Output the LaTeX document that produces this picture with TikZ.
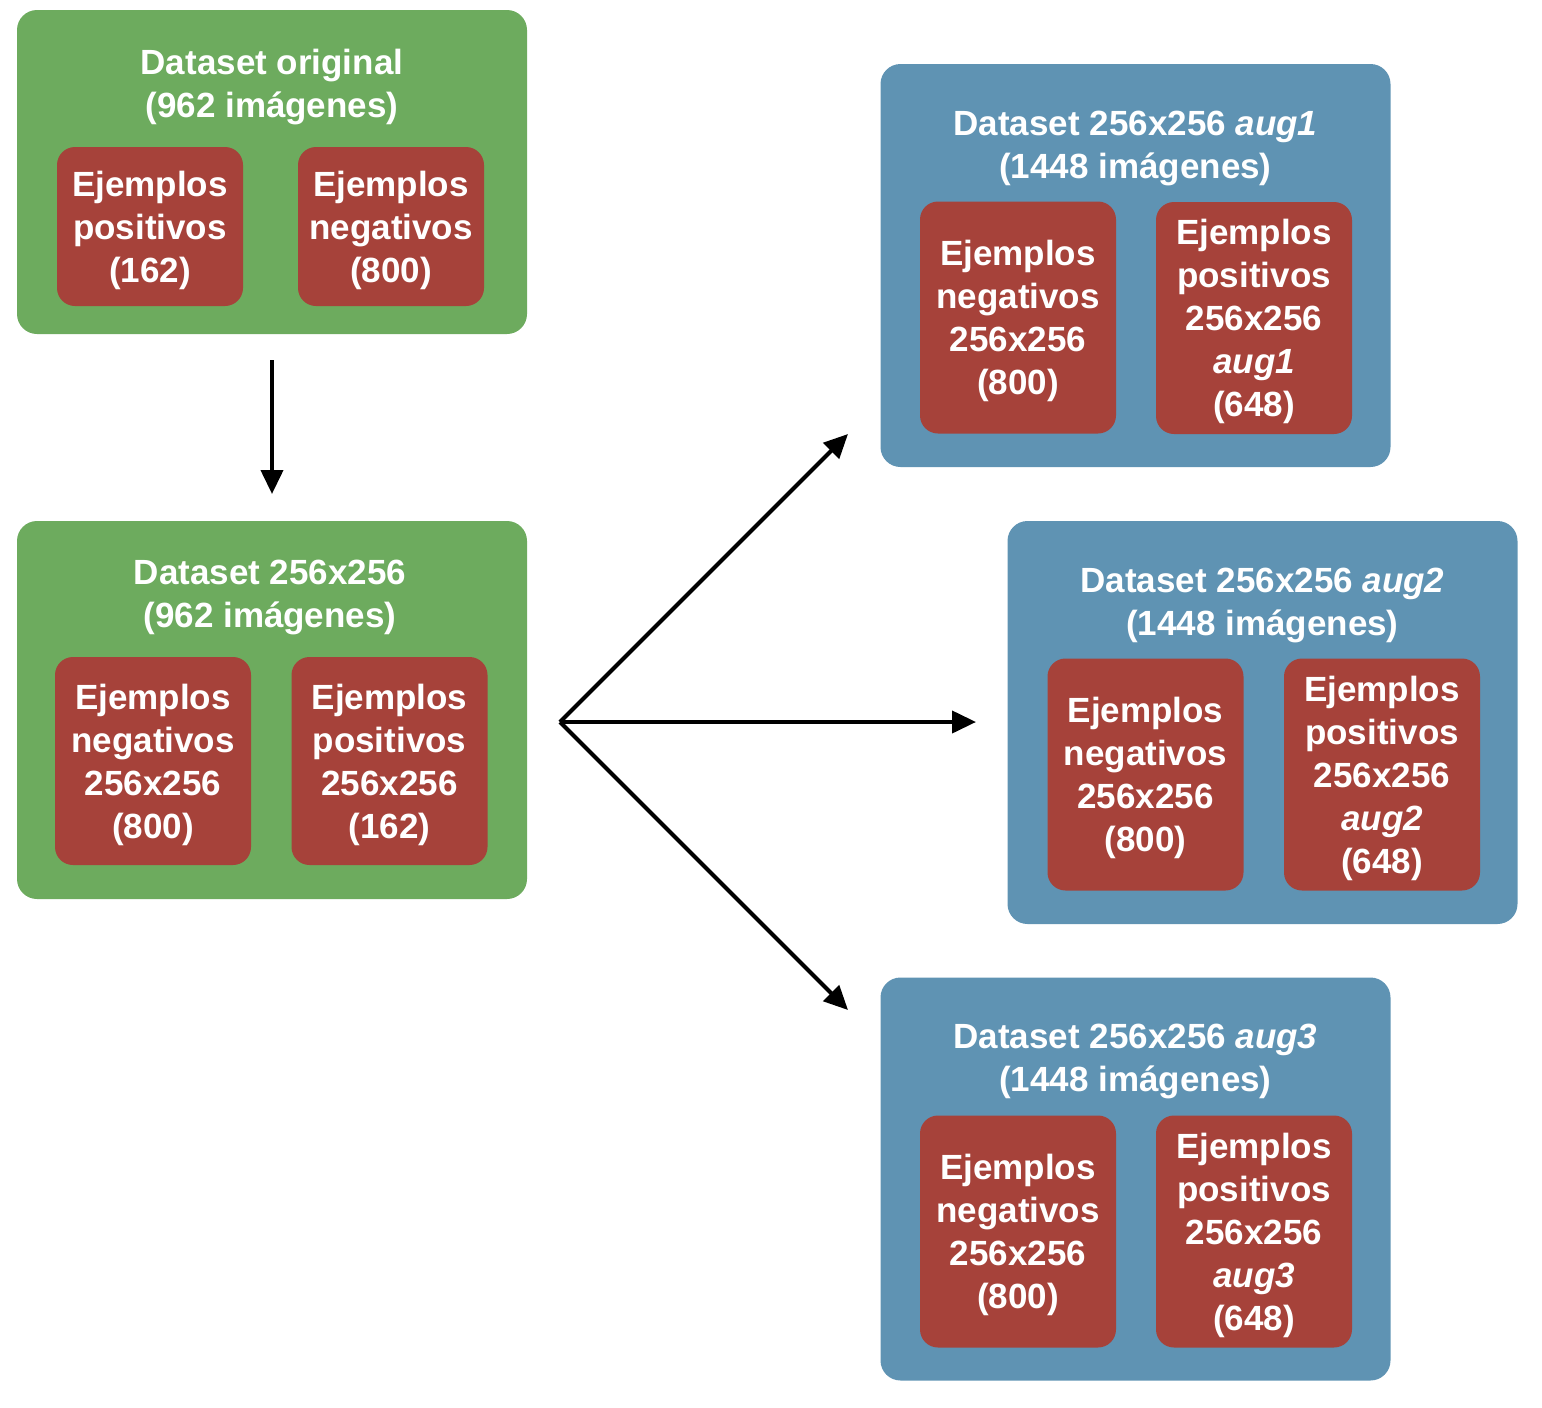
\documentclass[tikz,border=0pt]{standalone}
\usepackage{fontspec}
\setmainfont{Liberation Sans}
\usepackage{xcolor}
\usetikzlibrary{arrows.meta,positioning}
\definecolor{dsgreen}{HTML}{6DAB5E}
\definecolor{dsblue}{HTML}{5F93B3}
\definecolor{dsred}{HTML}{A6423A}
\begin{document}
\begin{tikzpicture}[x=0.5pt, y=-0.5pt, line width=2pt,
	>={Triangle[length=12pt,width=11pt]}]

	\tikzstyle{orig}=[rounded corners=10pt,fill=dsgreen,minimum width=255pt]
	\tikzstyle{aug}=[rounded corners=10pt,fill=dsblue,minimum width=255pt,minimum height=201.5pt]
	\tikzstyle{clase}=[rounded corners=9pt,fill=dsred,minimum width=98pt]
	\tikzstyle{txt}=[text=white,align=center,inner sep=0pt,yshift=-1.8pt,
		font=\bfseries\fontsize{17.5}{21.5}\selectfont]
	\useasboundingbox (0,0) rectangle (1542,1408);

	% Dataset original
	\node[orig,minimum height=162pt] (O) at (272,172) {};
	\node[txt] (OT) at (272,83.5) {Dataset original\\(962 imágenes)};
	\node[clase,minimum width=93pt,minimum height=79.5pt] (OP) at (150,226.5) {};
	\node[txt] at (OP) {Ejemplos\\positivos\\(162)};
	\node[clase,minimum width=93pt,minimum height=79.5pt] (ON) at (391,226.5) {};
	\node[txt] at (ON) {Ejemplos\\negativos\\(800)};

	% Dataset 256x256
	\node[orig,minimum height=189pt] (R) at (272,710) {};
	\node[txt] (RT) at (270,593.5) {Dataset 256x256\\(962 imágenes)};
	\node[clase,minimum height=104pt] (RN) at (153,761) {};
	\node[txt] at (RN) {Ejemplos\\negativos\\256x256\\(800)};
	\node[clase,minimum height=104pt] (RP) at (389.5,761) {};
	\node[txt] at (RP) {Ejemplos\\positivos\\256x256\\(162)};

	% aug1
	\node[aug] (A) at (1135.5,265.5) {};
	\node[txt] (AT) at (1135.5,144.5) {Dataset 256x256 \textit{aug1}\\(1448 imágenes)};
	\node[clase,minimum height=116pt] (AN) at (1018,317.5) {};
	\node[txt] at (AN) {Ejemplos\\negativos\\256x256\\(800)};
	\node[clase,minimum height=116pt] (AP) at (1254,318) {};
	\node[txt] at (AP) {Ejemplos\\positivos\\256x256\\\textit{aug1}\\(648)};

	% aug2
	\node[aug] (B) at (1262.5,722.5) {};
	\node[txt] (BT) at (1262.5,601.5) {Dataset 256x256 \textit{aug2}\\(1448 imágenes)};
	\node[clase,minimum height=116pt] (BN) at (1145.5,774.5) {};
	\node[txt] at (BN) {Ejemplos\\negativos\\256x256\\(800)};
	\node[clase,minimum height=116pt] (BP) at (1382,774.5) {};
	\node[txt] at (BP) {Ejemplos\\positivos\\256x256\\\textit{aug2}\\(648)};

	% aug3
	\node[aug] (C) at (1135.5,1179) {};
	\node[txt] (CT) at (1135.5,1057.5) {Dataset 256x256 \textit{aug3}\\(1448 imágenes)};
	\node[clase,minimum height=116pt] (CN) at (1018,1231.5) {};
	\node[txt] at (CN) {Ejemplos\\negativos\\256x256\\(800)};
	\node[clase,minimum height=116pt] (CP) at (1254,1231.5) {};
	\node[txt] at (CP) {Ejemplos\\positivos\\256x256\\\textit{aug3}\\(648)};

	% From original to 256x256
	\draw[->,shorten <=12pt,shorten >=12.5pt] (O) -- (R);

	% From 256x256 to the augmented ones
	\coordinate (split) at (560,722);
	\coordinate (toA) at (848,434);
	\coordinate (toB) at (976,722);
	\coordinate (toC) at (848,1010);
	\draw[->] (split) -- (toA);
	\draw[->] (split) -- (toB);
	\draw[->] (split) -- (toC);

\end{tikzpicture}
\end{document}
